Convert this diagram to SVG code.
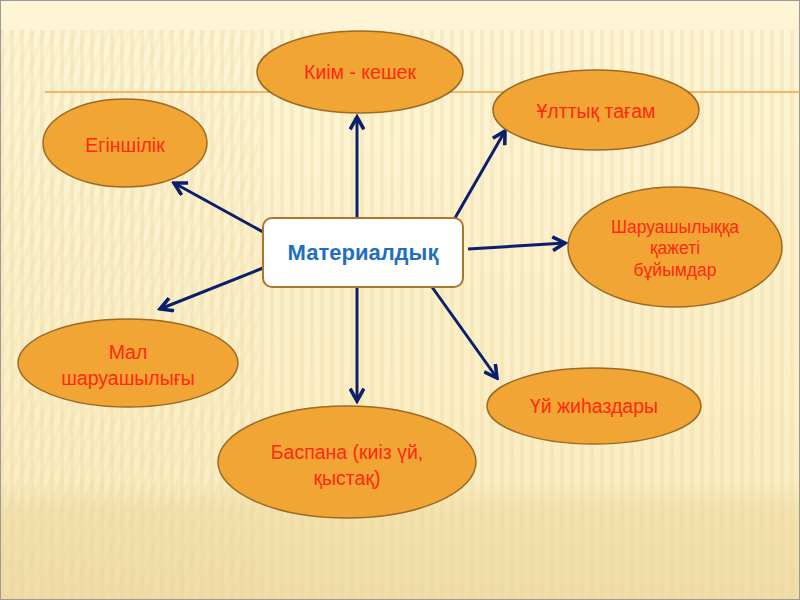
<svg xmlns="http://www.w3.org/2000/svg" width="800" height="600" viewBox="0 0 800 600">
<defs>
<linearGradient id="bg" x1="0" y1="0" x2="0" y2="1">
<stop offset="0" stop-color="#FDF5D6"/>
<stop offset="0.8" stop-color="#FBEDC2"/>
<stop offset="0.85" stop-color="#F3E2AE"/>
<stop offset="1" stop-color="#F0DDA6"/>
</linearGradient>
<pattern id="stripes" width="10" height="10" patternUnits="userSpaceOnUse">
<rect x="0" y="0" width="4" height="10" fill="#EAD39A" opacity="0.3"/>
</pattern>
<pattern id="diag" width="10" height="10" patternUnits="userSpaceOnUse" patternTransform="rotate(20)">
<rect x="0" y="0" width="4" height="10" fill="#EAD39A" opacity="0.3"/>
</pattern>
<marker id="arr" viewBox="0 0 12 12" refX="10" refY="6" markerWidth="5.5" markerHeight="5.5" orient="auto" markerUnits="strokeWidth">
<path d="M1,1 L10,6 L1,11" fill="none" stroke="#0B1F6B" stroke-width="2.6" stroke-linejoin="miter"/>
</marker>
</defs>
<style>
.node ellipse{fill:#F0A535;stroke:#9C6A23;stroke-width:1.5}
.lbl{font-family:"Liberation Sans",Arial,sans-serif;fill:#FF2A10;text-anchor:middle;font-size:19.5px}
.conn line{stroke:#0B1F6B;stroke-width:3;marker-end:url(#arr)}
</style>
<rect width="800" height="600" fill="url(#bg)"/>
<rect x="0" y="30" width="800" height="570" fill="url(#stripes)" opacity="0.9"/>
<rect x="0" y="30" width="260" height="570" fill="url(#diag)" opacity="0.5"/>
<rect x="0.5" y="0.5" width="799" height="599" fill="none" stroke="#9A9A9A" stroke-width="1"/>
<line x1="45" y1="92" x2="800" y2="92" stroke="#E9A546" stroke-width="1.5"/>
<g class="conn" id="connectors">
<line x1="357" y1="218" x2="357" y2="117"/>
<line x1="263" y1="232" x2="174" y2="183"/>
<line x1="455" y1="218" x2="505" y2="131"/>
<line x1="468" y1="249" x2="565" y2="243"/>
<line x1="263" y1="268" x2="160" y2="309"/>
<line x1="357" y1="287" x2="357" y2="401"/>
<line x1="432" y1="287" x2="497" y2="378"/>
</g>
<g id="center">
<rect x="263" y="218" width="200" height="69" rx="9" fill="#FFFFFF" stroke="#A9772C" stroke-width="2"/>
<text x="363" y="260" font-family="Liberation Sans,Arial,sans-serif" font-weight="bold" font-size="22" fill="#1F6FC0" text-anchor="middle">Материалдық</text>
</g>
<g class="node" id="kiim">
<ellipse cx="360" cy="72" rx="103" ry="41"/>
<text class="lbl" x="360" y="79">Киім - кешек</text>
</g>
<g class="node" id="eginshilik">
<ellipse cx="125" cy="143" rx="82" ry="44"/>
<text class="lbl" x="125" y="152">Егіншілік</text>
</g>
<g class="node" id="ulttyk">
<ellipse cx="596" cy="110" rx="103" ry="40"/>
<text class="lbl" x="596" y="118">Ұлттық тағам</text>
</g>
<g class="node" id="sharua">
<ellipse cx="675" cy="247" rx="107" ry="60"/>
<text class="lbl" x="675" y="233" style="font-size:17.5px">Шаруашылыққа</text>
<text class="lbl" x="675" y="254" style="font-size:17.5px">қажеті</text>
<text class="lbl" x="675" y="276" style="font-size:17.5px">бұйымдар</text>
</g>
<g class="node" id="mal">
<ellipse cx="128" cy="363" rx="110" ry="44"/>
<text class="lbl" x="128" y="359">Мал</text>
<text class="lbl" x="128" y="385">шаруашылығы</text>
</g>
<g class="node" id="baspana">
<ellipse cx="347" cy="462" rx="129" ry="56"/>
<text class="lbl" x="347" y="459">Баспана (киіз үй,</text>
<text class="lbl" x="347" y="485">қыстақ)</text>
</g>
<g class="node" id="zhihaz">
<ellipse cx="594" cy="406" rx="107" ry="38"/>
<text class="lbl" x="594" y="413">Үй жиһаздары</text>
</g>
</svg>
